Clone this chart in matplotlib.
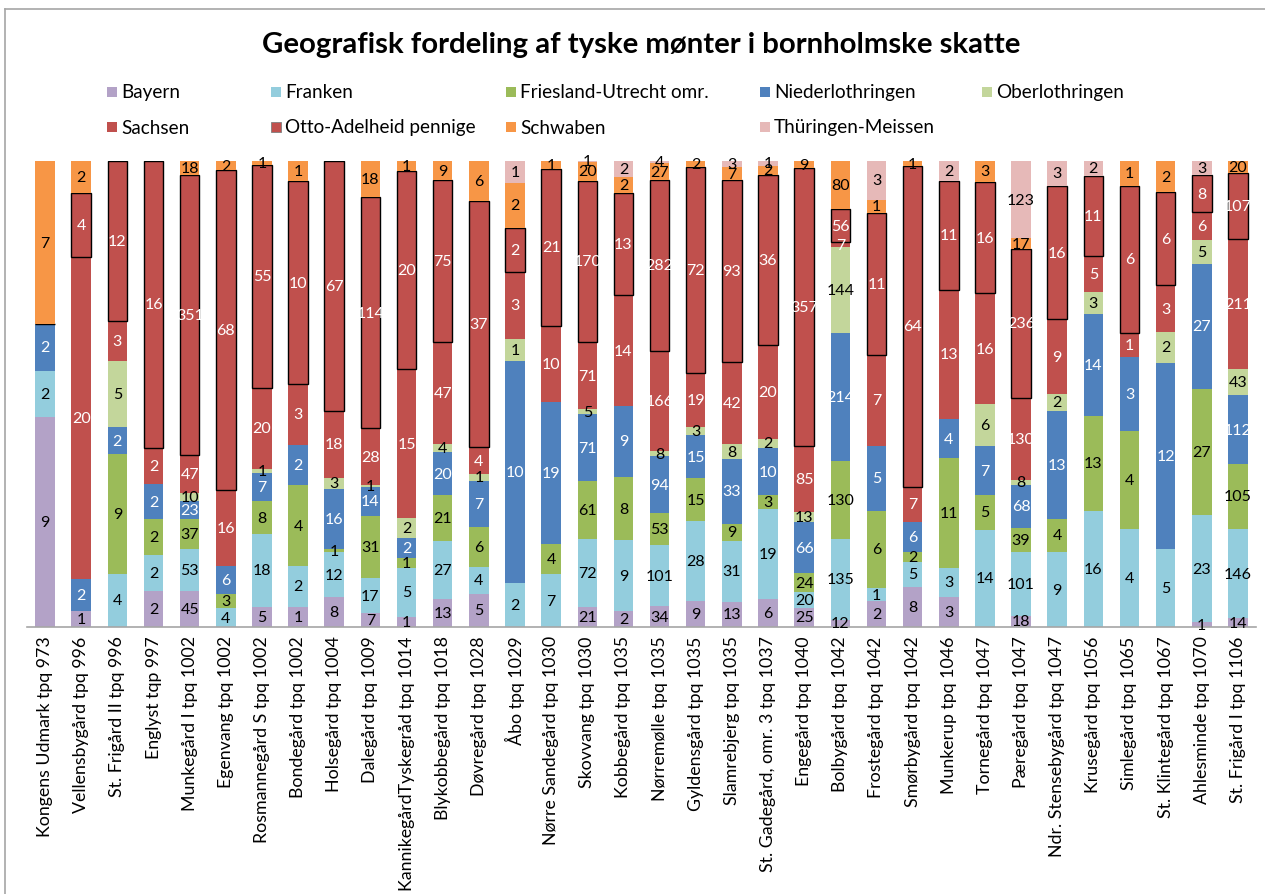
import numpy as np
import matplotlib.pyplot as plt
from matplotlib.patches import Rectangle
from matplotlib.lines import Line2D

# ==========================================
# Data (coin counts per hoard)
# ==========================================
sites = [
    "Kongens Udmark tpq 973", "Vellensbygård tpq 996", "St. Frigård II tpq 996",
    "Englyst tqp 997", "Munkegård I tpq 1002", "Egenvang tpq 1002",
    "Rosmannegård S tpq 1002", "Bondegård tpq 1002", "Holsegård tpq 1004",
    "Dalegård tpq 1009", "KannikegårdTyskegråd tpq 1014", "Blykobbegård tpq 1018",
    "Døvregård tpq 1028", "Åbo tpq 1029", "Nørre Sandegård tpq 1030",
    "Skovvang tpq 1030", "Kobbegård tpq 1035", "Nørremølle tpq 1035",
    "Gyldensgård tpq 1035", "Slamrebjerg tpq 1035", "St. Gadegård, omr. 3 tpq 1037",
    "Engegård tpq 1040", "Bolbygård tpq 1042", "Frostegård tpq 1042",
    "Smørbygård tpq 1042", "Munkerup tpq 1046", "Tornegård tpq 1047",
    "Pæregård tpq 1047", "Ndr. Stensebygård tpq 1047", "Krusegård tpq 1056",
    "Simlegård tpq 1065", "St. Klintegård tpq 1067", "Ahlesminde tpq 1070",
    "St. Frigård I tpq 1106",
]

bayern = [9, 1, 0, 2, 45, 0, 5, 1, 8, 7, 1, 13, 5, 0, 0, 21, 2, 34, 9, 13, 6, 25,
          12, 2, 8, 3, 0, 18, 0, 0, 0, 0, 1, 14]
franken = [2, 0, 4, 2, 53, 4, 18, 2, 12, 17, 5, 27, 4, 2, 7, 72, 9, 101, 28, 31, 19, 20,
           135, 1, 5, 3, 14, 101, 9, 16, 4, 5, 23, 146]
friesland = [0, 0, 9, 2, 37, 3, 8, 4, 1, 31, 1, 21, 6, 0, 4, 61, 8, 53, 15, 9, 3, 24,
             130, 6, 2, 11, 5, 39, 4, 13, 4, 0, 27, 105]
niederlothringen = [2, 2, 2, 2, 23, 6, 7, 2, 16, 14, 2, 20, 7, 10, 19, 71, 9, 94, 15, 33, 10, 66,
                    214, 5, 6, 4, 7, 68, 13, 14, 3, 12, 27, 112]
oberlothringen = [0, 0, 5, 0, 10, 0, 1, 0, 3, 1, 2, 4, 1, 1, 0, 5, 0, 8, 3, 8, 2, 13,
                  144, 0, 0, 0, 6, 8, 2, 3, 0, 2, 5, 43]
sachsen = [0, 20, 3, 2, 47, 16, 20, 3, 18, 28, 15, 47, 4, 3, 10, 71, 14, 166, 19, 42, 20, 85,
           7, 7, 7, 13, 16, 130, 9, 5, 1, 3, 6, 211]
otto_adelheid = [0, 4, 12, 16, 351, 68, 55, 10, 67, 114, 20, 75, 37, 2, 21, 170, 13, 282, 72, 93, 36, 357,
                 56, 11, 64, 11, 16, 236, 16, 11, 6, 6, 8, 107]
schwaben = [7, 2, 0, 0, 18, 2, 1, 1, 0, 18, 1, 9, 6, 2, 1, 20, 2, 27, 2, 7, 2, 9,
            80, 1, 1, 0, 3, 17, 0, 0, 1, 2, 0, 20]
thueringen = [0, 0, 0, 0, 0, 0, 0, 0, 0, 0, 0, 0, 0, 1, 0, 1, 2, 4, 0, 3, 1, 0,
              0, 3, 0, 2, 0, 123, 3, 2, 0, 0, 3, 0]

series_names = ["Bayern", "Franken", "Friesland-Utrecht omr.", "Niederlothringen",
                "Oberlothringen", "Sachsen", "Otto-Adelheid pennige", "Schwaben",
                "Thüringen-Meissen"]

# ==========================================
# Styles
# ==========================================
FONT = ["Lato", "DejaVu Sans"]
colors = ["#B3A2C7", "#93CDDD", "#9BBB59", "#4F81BD", "#C3D69B",
          "#C0504D", "#C0504D", "#F79646", "#E6B9B8"]
edges = ["none"] * 6 + ["black"] + ["none"] * 2
label_colors = ["black", "black", "black", "white", "black",
                "white", "white", "black", "black"]

plt.rcParams['font.family'] = FONT

counts = np.array([bayern, franken, friesland, niederlothringen, oberlothringen,
                   sachsen, otto_adelheid, schwaben, thueringen], dtype=float)
shares = counts / counts.sum(axis=0) * 100

fig = plt.figure(figsize=(12.65, 8.95), dpi=100)
ax = fig.add_axes([27 / 1265, 1 - 628 / 895, (1256 - 27) / 1265, (628 - 162) / 895])

x = np.arange(len(sites))
bottom = np.zeros(len(sites))
for i, name in enumerate(series_names):
    bars = ax.bar(x, shares[i], 0.54, bottom=bottom, color=colors[i],
                  edgecolor=edges[i], linewidth=1.0 if edges[i] != "none" else 0,
                  label=name)
    labels = [str(int(v)) if v > 0 else "" for v in counts[i]]
    ax.bar_label(bars, labels=labels, label_type='center', color=label_colors[i],
                 fontsize=11.5)
    bottom += shares[i]

ax.set_xlim(-0.5, len(sites) - 0.5)
ax.set_ylim(0, 100)
ax.set_yticks([])
ax.set_xticks(x)
ax.set_xticklabels(sites, rotation=90, fontsize=12.8, va='top', ha='center')
ax.tick_params(axis='x', length=0, pad=6)
for side in ["top", "right", "left"]:
    ax.spines[side].set_visible(False)
ax.spines["bottom"].set_color("#A6A6A6")
ax.spines["bottom"].set_linewidth(1.2)

# title
fig.text(641 / 1265, 1 - 45 / 895, "Geografisk fordeling af tyske mønter i bornholmske skatte",
         ha='center', va='center', fontsize=21.2, fontweight='bold')

# legend, laid out in rows like the original
legend_x = [107, 271, 506, 760, 982, 107, 271, 506, 760]
legend_y = [93, 93, 93, 93, 93, 128, 128, 128, 128]
for i, name in enumerate(series_names):
    px, py = legend_x[i], legend_y[i]
    fig.patches.append(Rectangle((px / 1265, 1 - (py + 5) / 895), 10 / 1265, 10 / 895,
                                 transform=fig.transFigure, facecolor=colors[i],
                                 edgecolor="#7F7F7F" if edges[i] != "none" else "none",
                                 linewidth=0.6))
    fig.text((px + 14) / 1265, 1 - py / 895, name, ha='left', va='center', fontsize=13.6)

# chart-area border (top and left edge visible in the original)
fig.add_artist(Line2D([5 / 1265, 1], [1 - 10 / 895, 1 - 10 / 895], color="#A6A6A6",
                      linewidth=1.2, transform=fig.transFigure))
fig.add_artist(Line2D([5 / 1265, 5 / 1265], [0, 1 - 10 / 895], color="#A6A6A6",
                      linewidth=1.2, transform=fig.transFigure))

fig.savefig("out.png", dpi=100)
